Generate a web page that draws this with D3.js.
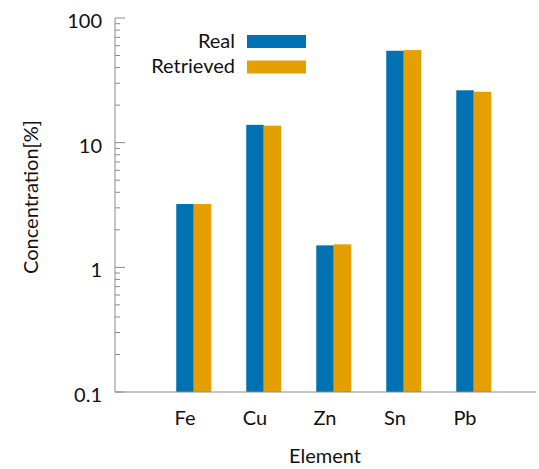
<!DOCTYPE html>
<html><head><meta charset="utf-8">
<script src="https://cdn.jsdelivr.net/npm/d3@7"></script>
<style>body{margin:0;background:#fff}svg{display:block}text{font-family:Lato,sans-serif;fill:#111}</style>
</head><body>
<svg id="c" width="539" height="469"></svg>
<script>
const categories = ["Fe","Cu","Zn","Sn","Pb"];
const real = [3.22, 13.9, 1.50, 54.6, 26.3];
const retrieved = [3.22, 13.7, 1.53, 55.3, 25.6];
const seriesNames = ["Real","Retrieved"];
const yTickLabels = ["0.1","1","10","100"];
const colors = ["#0072B2","#E69F00"];

const svg = d3.select("#c");
const x = d3.scaleLinear().domain([-1,5]).range([115,535]);
const y = d3.scaleLog().domain([0.1,100]).range([392,18]);
const bw = 0.25;
const axisColor = "#8a8a8a";

// bars
const series = [real, retrieved];
series.forEach((vals, s) => {
  svg.append("g").selectAll("rect").data(vals).join("rect")
    .attr("x", (d,i) => x(i - bw/2 + s*bw))
    .attr("width", x(bw) - x(0))
    .attr("y", d => y(d))
    .attr("height", d => y(0.1) - y(d))
    .attr("fill", colors[s]);
});

// y axis
const minor = [];
for (let e = -1; e < 2; e++) for (let k = 2; k <= 9; k++) minor.push(k * Math.pow(10, e));
const gy = svg.append("g").attr("transform", `translate(${x(-1)},0)`);
gy.append("line").attr("y1", y(0.1)).attr("y2", y(100)).attr("stroke", axisColor);
gy.selectAll(".mn").data(minor).join("line").attr("class","mn")
  .attr("x1",0).attr("x2",5).attr("y1",d=>y(d)).attr("y2",d=>y(d)).attr("stroke",axisColor);
gy.selectAll(".mj").data(yTickLabels).join("line").attr("class","mj")
  .attr("x1",0).attr("x2",10).attr("y1",d=>y(+d)).attr("y2",d=>y(+d)).attr("stroke",axisColor);
gy.selectAll(".tl").data(yTickLabels).join("text").attr("class","tl")
  .attr("x",-13).attr("y",d=>y(+d)+3).attr("dy","0.35em").attr("text-anchor","end")
  .style("font-size","20px").text(d=>d);

// x axis
svg.append("line").attr("x1", x(-1)).attr("x2", x(5)+1).attr("y1", y(0.1)).attr("y2", y(0.1)).attr("stroke", axisColor);
svg.append("g").selectAll("text").data(categories).join("text")
  .attr("x",(d,i)=>x(i)).attr("y",425).attr("text-anchor","middle")
  .style("font-size","20px").text(d=>d);

// axis titles
svg.append("text").attr("x",(x(-1)+x(5))/2).attr("y",463).attr("text-anchor","middle")
  .style("font-size","20px").text("Element");
svg.append("text").attr("transform","translate(38,197) rotate(-90)").attr("text-anchor","middle")
  .style("font-size","20px").text("Concentration[%]");

// legend
const lg = svg.append("g");
seriesNames.forEach((n,s)=>{
  lg.append("text").attr("x",235).attr("y",48+s*24.6).attr("text-anchor","end").style("font-size","20px").text(n);
  lg.append("rect").attr("x",247).attr("y",35+s*25.5).attr("width",59).attr("height",13).attr("fill",colors[s]);
});
</script>
</body></html>
